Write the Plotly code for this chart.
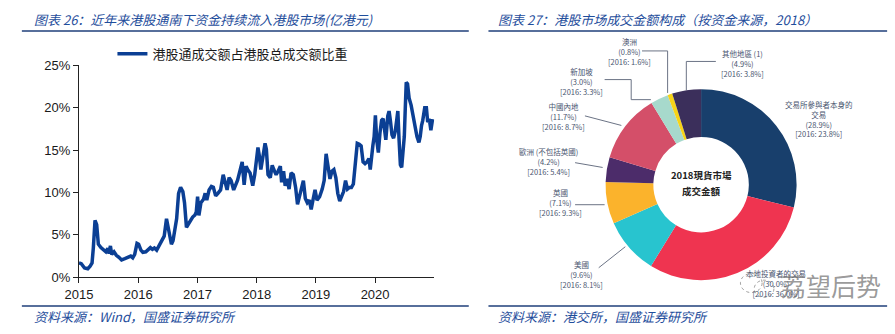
import plotly.graph_objects as go

# ---------------- Left chart data ----------------
years = [
    2015.000, 2015.039, 2015.094, 2015.149, 2015.188, 2015.221, 2015.243, 2015.271, 2015.299, 2015.327,
    2015.371, 2015.415, 2015.454, 2015.487, 2015.509, 2015.531, 2015.553, 2015.592, 2015.631, 2015.675,
    2015.719, 2015.775, 2015.830, 2015.874, 2015.908, 2015.941, 2015.980, 2016.007, 2016.046, 2016.079,
    2016.129, 2016.173, 2016.206, 2016.240, 2016.273, 2016.312, 2016.350, 2016.395, 2016.439, 2016.478,
    2016.505, 2016.533, 2016.561, 2016.588, 2016.616, 2016.649, 2016.682, 2016.716, 2016.754, 2016.782,
    2016.815, 2016.848, 2016.882, 2016.920, 2016.959, 2016.981, 2017.003, 2017.025, 2017.059, 2017.103,
    2017.131, 2017.158, 2017.197, 2017.236, 2017.269, 2017.308, 2017.346, 2017.391, 2017.435, 2017.463,
    2017.501, 2017.535, 2017.568, 2017.612, 2017.645, 2017.678, 2017.723, 2017.756, 2017.789, 2017.822,
    2017.856, 2017.889, 2017.934, 2017.967, 2018.000, 2018.022, 2018.044, 2018.071, 2018.110, 2018.142,
    2018.164, 2018.192, 2018.230, 2018.263, 2018.290, 2018.329, 2018.362, 2018.400, 2018.422, 2018.455,
    2018.482, 2018.515, 2018.548, 2018.581, 2018.619, 2018.658, 2018.690, 2018.723, 2018.756, 2018.789,
    2018.822, 2018.855, 2018.888, 2018.921, 2018.948, 2018.986, 2019.019, 2019.063, 2019.107, 2019.140,
    2019.173, 2019.205, 2019.238, 2019.271, 2019.304, 2019.337, 2019.370, 2019.403, 2019.436, 2019.468,
    2019.501, 2019.534, 2019.567, 2019.600, 2019.633, 2019.666, 2019.699, 2019.732, 2019.764, 2019.797,
    2019.830, 2019.863, 2019.896, 2019.918, 2019.940, 2019.962, 2019.984, 2020.005, 2020.027, 2020.055,
    2020.082, 2020.110, 2020.137, 2020.159, 2020.181, 2020.214, 2020.236, 2020.258, 2020.285, 2020.312,
    2020.340, 2020.367, 2020.384, 2020.405, 2020.427, 2020.449, 2020.471, 2020.493, 2020.510, 2020.526,
    2020.548, 2020.575, 2020.608, 2020.641, 2020.674, 2020.707, 2020.740, 2020.762, 2020.784, 2020.805,
    2020.838, 2020.866, 2020.888, 2020.915, 2020.942, 2020.970,
]
share_pct = [
    1.7, 1.6, 1.1, 1.0, 1.3, 1.7, 3.5, 6.7, 6.2, 3.9,
    3.5, 3.2, 3.0, 3.4, 2.8, 3.7, 2.7, 3.0, 2.6, 2.35,
    2.05, 2.2, 2.35, 2.5, 2.3, 2.7, 4.0, 3.9, 3.2, 2.95,
    3.0, 3.25, 3.5, 3.3, 3.45, 3.2, 3.7, 4.2, 4.85, 6.9,
    6.0, 4.85, 3.9, 4.3, 5.6, 6.9, 9.9, 10.6, 10.1, 8.8,
    5.9, 6.3, 6.7, 7.1, 7.35, 7.7, 9.5, 7.3, 8.8, 9.2,
    9.9, 9.1, 10.3, 10.7, 10.6, 9.6, 9.9, 10.3, 12.1, 11.2,
    10.3, 11.75, 11.4, 10.3, 10.8, 11.45, 12.7, 13.6, 10.9, 13.1,
    12.6, 12.3, 10.8, 12.1, 14.0, 15.3, 14.4, 12.7, 14.4, 15.8,
    15.1, 12.1, 11.75, 13.2, 12.7, 12.1, 12.5, 13.1, 11.2, 12.5,
    10.8, 11.6, 10.4, 12.3, 12.1, 10.6, 8.6, 9.5, 10.8, 11.4,
    9.3, 8.8, 9.1, 8.0, 9.0, 10.3, 9.1, 9.5, 10.4, 11.4,
    14.55, 12.9, 11.6, 12.5, 12.7, 11.75, 9.9, 9.0, 9.5, 10.1,
    11.4, 10.4, 10.6, 10.6, 11.0, 13.6, 15.8, 15.7, 15.5, 13.6,
    13.4, 13.6, 14.0, 12.7, 14.4, 15.5, 16.6, 19.1, 16.2, 14.7,
    17.0, 18.5, 18.7, 17.35, 16.2, 19.0, 19.6, 18.5, 16.8, 16.4,
    17.2, 18.65, 19.6, 16.2, 13.25, 12.95, 14.7, 16.6, 20.0, 23.0,
    22.8, 21.1, 20.3, 19.0, 17.7, 16.6, 15.9, 16.6, 17.9, 18.5,
    20.0, 20.0, 18.3, 18.65, 17.35, 18.65,
]
x_ticks = [2015, 2016, 2017, 2018, 2019, 2020]
x_tick_labels = ["2015", "2016", "2017", "2018", "2019", "2020"]
y_ticks = [0, 5, 10, 15, 20, 25]
y_tick_labels = ["0%", "5%", "10%", "15%", "20%", "25%"]
series_name = "港股通成交额占港股总成交额比重"

# ---------------- Right chart data ----------------
pie_labels = ["交易所參與者本身的交易", "本地投資者的交易", "美國", "英國", "歐洲 (不包括英國)",
              "中國內地", "新加坡", "澳洲", "其他地區 (1)"]
pie_values = [28.9, 30.0, 9.6, 7.1, 4.2, 11.7, 3.0, 0.8, 4.9]
pie_2016 = [23.8, 36.0, 8.1, 9.3, 5.4, 8.7, 3.3, 1.6, 3.8]
pie_colors = ["#183f6c", "#ef3450", "#28c4cf", "#fbb32c", "#4c2c6a",
              "#d44f69", "#a7d9cc", "#f6d318", "#3b2f5b"]

W, H = 895, 334


def px(x):
    return x / W


def py(y):
    return 1 - y / H


fig = go.Figure()

fig.add_trace(go.Scatter(
    x=years, y=share_pct, mode="lines", name=series_name,
    line=dict(color="#0b3f94", width=3.5),
    xaxis="x", yaxis="y", showlegend=True,
))

fig.add_trace(go.Pie(
    labels=pie_labels, values=pie_values, sort=False, direction="clockwise", rotation=0,
    hole=0.5, marker=dict(colors=pie_colors, line=dict(width=0)),
    textinfo="none", textposition="none", showlegend=False,
    domain=dict(x=[px(598), px(798)], y=[py(286), py(86)]),
))

axis_font = dict(family="Liberation Sans, Arial", size=13, color="#1a1a1a")
fig.update_layout(
    width=W, height=H, autosize=False,
    margin=dict(l=0, r=0, t=0, b=0),
    paper_bgcolor="white", plot_bgcolor="white",
    xaxis=dict(domain=[px(66), px(427)], range=[2015, 2021], tickvals=x_ticks, ticktext=x_tick_labels,
               showgrid=False, zeroline=False, showline=True, linecolor="#222", linewidth=1,
               ticks="outside", ticklen=5, tickcolor="#222", tickfont=axis_font, anchor="y"),
    yaxis=dict(domain=[py(283), py(61)], range=[0, 25], tickvals=y_ticks, ticktext=y_tick_labels,
               showgrid=False, zeroline=False, showline=True, linecolor="#222", linewidth=1,
               ticks="outside", ticklen=5, tickcolor="#222", tickfont=axis_font, anchor="x"),
    legend=dict(x=px(100), y=py(49), xanchor="left", yanchor="middle", bgcolor="rgba(0,0,0,0)",
                font=dict(family="Noto Sans CJK SC", size=13, color="#1a1a1a")),
)

title_font = dict(family="Noto Sans CJK SC", size=13, color="#1f4e9c", style="italic")
ann = []
ann.append(dict(text="图表 26：近年来港股通南下资金持续流入港股市场(亿港元)", x=px(18), y=py(13),
                xanchor="left", yanchor="middle", font=title_font))
ann.append(dict(text="图表 27：港股市场成交金额构成（按资金来源，2018）", x=px(490), y=py(13),
                xanchor="left", yanchor="middle", font=title_font))
ann.append(dict(text="资料来源：Wind，国盛证券研究所", x=px(18), y=py(324),
                xanchor="left", yanchor="middle", font=title_font))
ann.append(dict(text="资料来源：港交所，国盛证券研究所", x=px(490), y=py(324),
                xanchor="left", yanchor="middle", font=title_font))

# Pie centre text
center_font = dict(family="Noto Sans CJK TC", size=9.5, color="#222")
ann.append(dict(text="<b>2018現貨市場</b>", x=px(698), y=py(176), xanchor="center", yanchor="middle",
                font=center_font))
ann.append(dict(text="<b>成交金額</b>", x=px(698), y=py(193), xanchor="center", yanchor="middle",
                font=center_font))

# Pie labels
lab_font = dict(family="Noto Sans CJK TC", size=7.5, color="#4a5670")
label_pos = {
    "交易所參與者本身的交易": (818, 117, "交易所參與者本身的<br>交易"),
    "本地投資者的交易": (774, 290, "本地投資者的交易"),
    "美國": (577, 280, "美國"),
    "英國": (555, 205, "英國"),
    "歐洲 (不包括英國)": (543, 162, "歐洲 (不包括英國)"),
    "中國內地": (558, 115, "中國內地"),
    "新加坡": (577, 78, "新加坡"),
    "澳洲": (625, 47, "澳洲"),
    "其他地區 (1)": (740, 59, "其他地區 (1)"),
}
for name, v, v16 in zip(pie_labels, pie_values, pie_2016):
    lx, ly, head = label_pos[name]
    ann.append(dict(text=f"{head}<br>({v:.1f}%)<br>[2016: {v16:.1f}%]", x=px(lx), y=py(ly),
                    xanchor="center", yanchor="middle", align="center", font=lab_font))

# Watermark
ann.append(dict(text="荔望后势", x=px(830), y=py(291), xanchor="center", yanchor="middle",
                font=dict(family="Noto Sans CJK SC", size=25, color="rgba(110,110,110,0.7)")))

for a in ann:
    a.update(xref="paper", yref="paper", showarrow=False)
fig.update_layout(annotations=ann)

shapes = []
line_col = "#1f3f7a"
for (x0, x1) in [(8, 462), (482, 887)]:
    shapes.append(dict(type="line", x0=px(x0), x1=px(x1), y0=py(25), y1=py(25),
                       line=dict(color=line_col, width=1.5)))
    shapes.append(dict(type="line", x0=px(x0), x1=px(x1), y0=py(313), y1=py(313),
                       line=dict(color=line_col, width=1.5)))

leaders = [
    [(638, 46), (664, 46), (664, 90)],
    [(600, 76), (627, 76), (627, 97), (647, 97)],
    [(580, 114), (617, 124)],
    [(570, 163), (598, 168)],
    [(570, 207), (600, 207)],
    [(594, 273), (621, 251)],
    [(713, 57), (683, 57), (683, 87)],
]
for pts in leaders:
    path = "M " + " L ".join(f"{px(x):.5f},{py(y):.5f}" for x, y in pts)
    shapes.append(dict(type="path", path=path, line=dict(color="#6b7385", width=1)))

# watermark bubbles
shapes.append(dict(type="circle", x0=px(738), x1=px(760), y0=py(299), y1=py(279),
                   line=dict(color="rgba(120,120,120,0.7)", width=1, dash="dot")))
shapes.append(dict(type="circle", x0=px(752), x1=px(772), y0=py(304), y1=py(286),
                   line=dict(color="rgba(120,120,120,0.7)", width=1, dash="dot")))

for s in shapes:
    s.update(xref="paper", yref="paper")
fig.update_layout(shapes=shapes)

fig.write_html("out.html", post_script="document.body.style.margin='0';document.body.style.overflow='hidden';")
